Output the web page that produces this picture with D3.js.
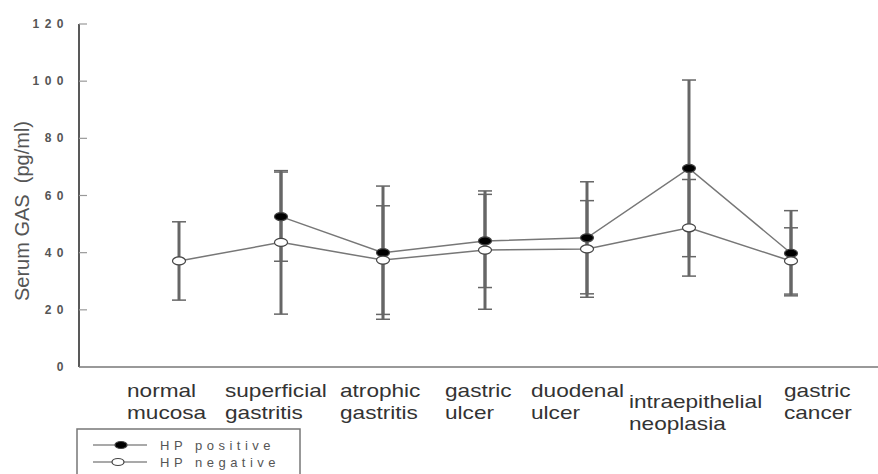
<!DOCTYPE html>
<html>
<head>
    <title>Serum GAS by HP status</title>
    <style>
        body { margin: 0; background: #fff; }
        svg { display: block; font-family: "Liberation Sans", Arial, sans-serif; }
        .cat text { fill: #333; font-size: 19px; }
        .ytick text { fill: #555; font-size: 12px; font-weight: bold; letter-spacing: 5.5px; }
        .legend text { fill: #555; font-size: 13px; letter-spacing: 4.5px; }
    </style>
</head>
<body>
    <div id="chart"></div>

    <script src="https://d3js.org/d3.v7.min.js"></script>
<script>
    // categories (two lines each)
    var categories = ["normal mucosa", "superficial gastritis", "atrophic gastritis", "gastric ulcer",
        "duodenal ulcer", "intraepithelial neoplasia", "gastric cancer"];
    var categoryLines = [["normal", "mucosa"], ["superficial", "gastritis"], ["atrophic", "gastritis"],
        ["gastric", "ulcer"], ["duodenal", "ulcer"], ["intraepithelial", "neoplasia"], ["gastric", "cancer"]];

    // HP positive: mean and SD (no value for normal mucosa)
    var posMean = [null, 52.6, 40.0, 44.1, 45.2, 69.5, 39.8];
    var posSD   = [null, 15.6, 23.3, 16.3, 19.6, 30.9, 14.9];

    // HP negative: mean and SD
    var negMean = [37.1, 43.6, 37.4, 40.9, 41.3, 48.7, 37.1];
    var negSD   = [13.7, 25.1, 19.0, 20.7, 16.9, 16.9, 11.6];

    var yTicks = [0, 20, 40, 60, 80, 100, 120];

    // canvas
    var width = 878, height = 474;
    var svg = d3.select("#chart").append("svg")
        .attr("width", width)
        .attr("height", height);

    var x = d3.scalePoint().domain(categories).range([77, 893]).padding(1);
    var y = d3.scaleLinear().domain([0, 120]).range([367, 24]);

    // axes
    svg.append("line")
        .attr("x1", 79).attr("x2", width)
        .attr("y1", y(0)).attr("y2", y(0))
        .attr("stroke", "#999").attr("stroke-width", 2);
    svg.append("line")
        .attr("x1", 79).attr("x2", 79)
        .attr("y1", y(120)).attr("y2", y(0))
        .attr("stroke", "#222").attr("stroke-width", 1.5);

    var yt = svg.selectAll(".ytick")
        .data(yTicks)
        .enter().append("g")
        .attr("class", "ytick")
        .attr("transform", function(d) { return "translate(0," + y(d) + ")"; });
    yt.append("line")
        .attr("x1", 79).attr("x2", 87)
        .attr("stroke", "#999").attr("stroke-width", 1.2);
    yt.append("text")
        .attr("x", 69).attr("dy", 4)
        .attr("text-anchor", "end")
        .text(function(d) { return d; });

    svg.append("text")
        .attr("transform", "translate(29,211) rotate(-90)")
        .attr("text-anchor", "middle")
        .attr("fill", "#555")
        .style("font-size", "20px")
        .style("white-space", "pre")
        .text("Serum GAS  (pg/ml)");

    // category labels (hand placed, as in the original)
    var labelDx = [-52, -56, -43, -40, -56, -60, -7];
    var labelDy = [0, 0, 0, 0, 0, 11, 0];
    var cat = svg.selectAll(".cat")
        .data(categoryLines)
        .enter().append("g")
        .attr("class", "cat")
        .attr("transform", function(d, i) {
            return "translate(" + (x(categories[i]) + labelDx[i]) + "," + (397 + labelDy[i]) + ") scale(1.19,1)";
        });
    cat.selectAll("text")
        .data(function(d) { return d; })
        .enter().append("text")
        .attr("y", function(d, j) { return j * 22; })
        .text(function(d) { return d; });

    // series
    var series = [
        { mean: posMean, sd: posSD, fill: "#000" },
        { mean: negMean, sd: negSD, fill: "#fff" }
    ];

    // error bars
    series.forEach(function(s) {
        var idx = d3.range(categories.length).filter(function(i) { return s.mean[i] != null; });
        var eb = svg.append("g");
        eb.selectAll("line.v")
            .data(idx)
            .enter().append("line")
            .attr("x1", function(i) { return x(categories[i]); })
            .attr("x2", function(i) { return x(categories[i]); })
            .attr("y1", function(i) { return y(s.mean[i] + s.sd[i]); })
            .attr("y2", function(i) { return y(s.mean[i] - s.sd[i]); })
            .attr("stroke", "#666").attr("stroke-width", 3);
        [1, -1].forEach(function(sign) {
            eb.selectAll("line.c" + sign)
                .data(idx)
                .enter().append("line")
                .attr("x1", function(i) { return x(categories[i]) - 7; })
                .attr("x2", function(i) { return x(categories[i]) + 7; })
                .attr("y1", function(i) { return y(s.mean[i] + sign * s.sd[i]); })
                .attr("y2", function(i) { return y(s.mean[i] + sign * s.sd[i]); })
                .attr("stroke", "#666").attr("stroke-width", 1.5);
        });
    });

    // lines and markers
    var line = d3.line()
        .defined(function(d) { return d != null; })
        .x(function(d, i) { return x(categories[i]); })
        .y(function(d) { return y(d); });

    series.forEach(function(s) {
        svg.append("path")
            .attr("d", line(s.mean))
            .attr("fill", "none")
            .attr("stroke", "#777")
            .attr("stroke-width", 1.5);
    });
    series.forEach(function(s) {
        svg.append("g").selectAll("ellipse")
            .data(d3.range(categories.length).filter(function(i) { return s.mean[i] != null; }))
            .enter().append("ellipse")
            .attr("cx", function(i) { return x(categories[i]); })
            .attr("cy", function(i) { return y(s.mean[i]); })
            .attr("rx", 6.5).attr("ry", 4)
            .attr("fill", s.fill)
            .attr("stroke", "#444").attr("stroke-width", 1.2);
    });

    // legend
    var legendNames = ["HP positive", "HP negative"];
    var legend = svg.append("g").attr("class", "legend");
    legend.append("rect")
        .attr("x", 77).attr("y", 429)
        .attr("width", 223).attr("height", 60)
        .attr("fill", "none").attr("stroke", "#777").attr("stroke-width", 1.5);
    var li = legend.selectAll(".item")
        .data(legendNames)
        .enter().append("g")
        .attr("transform", function(d, i) { return "translate(0," + (445 + i * 17) + ")"; });
    li.append("line")
        .attr("x1", 93).attr("x2", 147)
        .attr("stroke", "#555").attr("stroke-width", 1.2);
    li.append("ellipse")
        .attr("cx", function(d, i) { return i ? 118 : 121; })
        .attr("rx", 6).attr("ry", 3.5)
        .attr("fill", function(d, i) { return series[i].fill; })
        .attr("stroke", "#444").attr("stroke-width", 1.2);
    li.append("text")
        .attr("x", 160).attr("dy", 4.5)
        .text(function(d) { return d; });
</script>

</body>
</html>
